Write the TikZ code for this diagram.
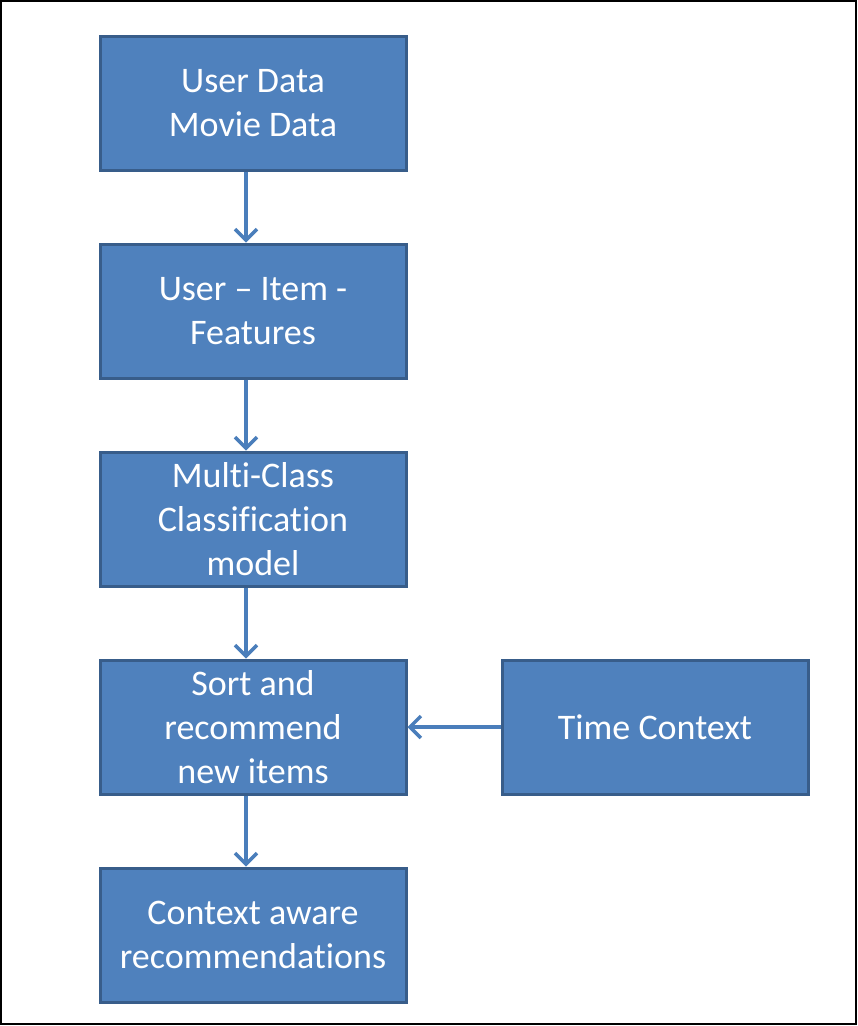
\documentclass[tikz,border=0pt]{standalone}
\usepackage{fontspec}
\setmainfont{Carlito}[Ligatures=NoCommon]
\usepackage{tikz}
\usetikzlibrary{positioning,arrows.meta}

\definecolor{boxfill}{HTML}{4F81BD}
\definecolor{boxline}{HTML}{385D8A}
\definecolor{arrowline}{HTML}{4A7EBB}

\begin{document}
\begin{tikzpicture}
                    [
                        x=1pt, y=-1pt,
                        node distance=71pt,
                        box/.style={draw=boxline, fill=boxfill, line width=3pt,
                            minimum width=306pt, minimum height=134pt, align=center,
                            text=white, font=\fontsize{36}{44}\selectfont},
                        flow/.style={draw=arrowline, line width=3.5pt,
                            -{Straight Barb[length=11pt,width=22pt,line width=3.5pt]}}
                    ]

                    % Rahmen
                    \useasboundingbox (0,0) rectangle (858,1026);
                    \draw[line width=2.5pt] (1,1) rectangle (856,1024);

                    % Kette
                    \node[box] (data) at (253,103) {User Data\\Movie Data};
                    \node[box, below=of data] (features) {User -- Item -\\Features};
                    \node[box, below=of features] (model) {Multi-Class\\Classification\\model};
                    \node[box, below=of model] (sort) {Sort and\\recommend\\new items};
                    \node[box, below=of sort] (result) {Context aware\\recommendations};
                    \node[box, right=93pt of sort] (time) {Time Context};

                    % Pfeile
                    \draw[flow] ([xshift=-7pt]data.south) -- ([xshift=-7pt]features.north);
                    \draw[flow] ([xshift=-7pt]features.south) -- ([xshift=-7pt]model.north);
                    \draw[flow] ([xshift=-7pt]model.south) -- ([xshift=-7pt]sort.north);
                    \draw[flow] ([xshift=-7pt]sort.south) -- ([xshift=-7pt]result.north);
                    \draw[flow] (time.west) -- (sort.east);
\end{tikzpicture}
\end{document}
